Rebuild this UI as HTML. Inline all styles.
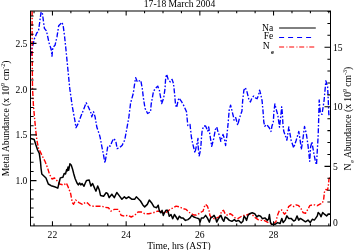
<!DOCTYPE html>
<html><head><meta charset="utf-8"><title>17-18 March 2004</title>
<style>
html,body{margin:0;padding:0;background:#fff;}
svg{display:block;}
text{font-family:"Liberation Serif",serif;font-size:9.6px;fill:#000;}
</style></head><body>
<svg width="355" height="250" viewBox="0 0 355 250">
<rect width="355" height="250" fill="#fff"/>
<text x="179.5" y="7.3" text-anchor="middle">17-18 March 2004</text>
<polyline points="31,56 32,48 33.2,44 34.2,39.3 36.8,33 38.5,31 39.8,21.5 41,12.5 42.2,12 43.5,21.5 44.4,28.3 46.4,30.8 47.7,36.7 49.4,44.3 50.6,47.5 51.3,50 52,56.2 52.5,50 53.2,47 55,45.3 56,41 57,36.7 58.7,25.7 60.4,24.1 62.1,22.4 63.3,26.6 64.6,36.7 65.8,48 69.7,88 72.3,106.6 74.8,120 76,127.7 78.2,123.5 80.7,116.7 84.1,108.3 86.2,102.8 88.4,107 90.9,112.7 91.8,116.9 93.5,111.8 95.1,116.9 96.8,127 99.4,134.6 100.2,137.6 101.9,146.9 103.6,155.4 104.9,163 106.6,153.7 107.8,146 110.4,146 112,141.8 113.7,138.5 115.8,141 117.1,148.6 119.6,147.7 122.2,145.2 124.7,140.1 126.4,131 128.9,116.9 130.6,103 133.2,93.8 134.9,82 135.7,77.7 137.4,82 139.1,81 140.8,80.3 142.3,88.7 143.4,98 144.5,105 145.1,108.5 147.6,113.5 150.5,111.8 151.2,104 152.2,98.8 153.5,91.2 156.1,87.8 157.7,86.1 159.4,90.4 161.1,100.5 161.7,103.5 163.7,98 165,88.7 165.7,77.7 166.7,74.3 168.4,80.2 170.4,81.9 172.1,79.4 173.5,83.6 174.6,93.7 175.5,104.5 176.6,107.6 178,101 178.9,98 181.4,101.3 183.9,105.9 186.5,111.8 187.3,120.3 187.8,125.5 190,124.4 191.4,137.2 192.6,143.2 193.8,148 195,152.8 196.2,146.8 197.4,142 198,138.4 198.1,145.6 198.6,151.6 199.2,155.8 200.4,150.4 201,144.4 201.6,136 202.2,130 203.9,126 205.6,126 207.8,131.1 208.7,127 210,135.4 211.7,146.3 213.7,138.7 215.4,129.4 216.8,127 218,132 219.6,136.2 220.8,141.3 223,134.5 224.2,137.9 225.6,145.5 226.9,135.4 228.1,123.5 229.2,110 230.6,105.1 232.1,111.3 233.5,117 234,120.1 235.7,117.6 237.7,125.2 239.4,118.5 240.8,114.2 241.9,111.3 242.7,100.4 243.9,90.2 245.3,87.7 247,91.9 248.7,98.7 250.4,102 252,97.8 253.7,96.1 255.4,97.8 257.1,98.7 258.5,95.3 259.6,90.2 260.8,94.4 262.1,101 263.1,111.9 263.8,122 264.8,126.3 266.8,124.6 269.4,128 271,131.5 271.9,126.3 273.3,122 273.9,111.9 274.9,104 276.1,109 277.8,115 279.5,127.1 280.7,117 281.7,106.8 282.5,115.3 282.9,123.7 283.7,131 286.9,140.2 288.8,127 291.1,140.2 293.7,147.8 296.2,140.2 298.8,131.5 300.4,141.9 301.3,149.5 303,138.5 304.5,126.5 306.3,133.5 308,145.3 309.7,161.3 310.6,147 311.9,141.9 313.6,152 315.6,162.2 316.5,164.7 317.3,150.3 318.2,135.1 318.7,118 319.2,100 320.4,113.2 322,114.4 324,101.2 325.9,80.8 327.6,86.8 328.3,101.2 328.8,114.4 330,116.8" fill="none" stroke="#0000ff" stroke-width="1.35" stroke-dasharray="5 1.8 1.6 1.8" stroke-linejoin="round"/>
<polyline points="32.1,11 32.15,50 32.5,88 33.4,105 34.6,118.4 35.6,129 36.8,139.8 38.5,148.3 41.8,155 45.2,161.8 47.7,168.3 49.4,174 52,179 54.5,178 57,180.7 59.6,184 63.8,185 66.3,183 68,186.6 70.6,193.4 72.3,202.6 73.6,204.3 75.6,200 79,202.6 82.4,204.3 85.8,202.2 87.5,203 90,205.5 93.5,206.3 97.7,206.3 101.9,206.3 105.3,207.4 108.4,207.7 110.9,211.1 114.3,209.4 118.5,209.4 121.1,215.3 124.4,216.2 127.8,215.3 131.2,217 134.6,215.3 138,212 141.3,212 144.7,213.7 148.9,213.7 153.2,212.8 157.4,211.1 160.8,211.5 163.4,212.8 166.8,212 170.1,209.4 173.5,207.7 176.1,206.1 179.4,206.9 182.8,208.6 186.2,209.4 188.7,212 191.3,213.7 193.8,215 196.3,215 198.9,213.7 201.4,212 203.1,211.1 204.3,206.9 205.6,204.4 207.3,206.1 209,210.3 209.9,215.4 211.5,217.9 214.1,218.7 216.6,217.9 219.2,217 220.1,215.4 221.8,211.1 223.5,210.3 225.1,213.7 227.7,215.4 230.2,213.7 232.7,215.4 235.3,217.9 237.8,218.7 240.4,217 242.9,215.4 245.4,215.4 248,214.5 250.5,213.7 253,215.4 255.6,217.9 258.1,219.6 260.6,220.4 264,220.4 267.4,222.1 270.8,223.6 273.4,223.8 275.9,221.8 277.6,215 279.3,210.8 281.8,210 284.4,214.2 286.9,211.7 288.6,206.6 291.1,204.9 293.7,206.6 296.2,204.9 298.7,205.7 301.3,209.1 303,212.5 305.5,213.3 308,209.1 309.7,205.7 312.3,204.9 314.8,204.9 317.3,205.7 319.9,204.1 322.4,203.2 323.7,199 324.4,192.2 325.8,189.5 327.6,190 328.4,185 329,179 330,177.5" fill="none" stroke="#ff0000" stroke-width="1.4" stroke-dasharray="5 1.8 1.4 1.8" stroke-linejoin="round"/>
<polyline points="31,138.5 34.2,139.5 35.9,145 37.6,150 39.3,153.3 40.5,161.8 41,168 41.8,174 46,178 48.3,184 51.1,185.7 54.6,186.8 57.8,188.1 59,183 60.3,177.9 62.9,177.2 64.2,173.4 65.5,174 66.7,169.5 67.4,170.8 68,167 68.7,170.2 69.9,163.8 71.2,165 72.5,168.9 73.8,174 75.1,178.5 77,183 78.3,184.9 79.6,183 80.8,184.9 82.1,183.6 84,186.2 85.3,183 86.6,180.4 89.2,180.1 90.9,186 92.6,183.5 94.8,188.6 96,191.1 97.7,186 99.4,190.3 100.5,195.4 103.6,196.2 106.1,192.8 107.5,193.4 109.2,197.6 111.8,194.2 114.3,197.6 116.8,192.5 119.4,195.9 121.9,199.3 124.4,196.8 126.1,198.5 128.7,196.8 132,199.3 134.6,199.3 136.3,196.8 138.8,199.3 140.5,201 143,205.2 144.7,206.9 147.3,204.4 149.3,200.1 151.5,202.7 154,206.9 156.6,207.7 158.2,205.2 159.4,211.1 160.8,212.8 162.1,210.3 163.3,215.4 164.5,212.8 165.9,210.3 167.6,210.3 169.3,216.2 171,214.5 172.7,218.7 174.4,214.5 176.1,217 177.7,219.6 179.4,216.2 181.1,217.9 182.8,217.9 185.4,220.4 187.9,219.6 190.1,217.9 191.8,215.4 193.8,217 196.3,217.9 198.9,218.7 200.1,222.1 201.4,217.9 203.6,217.9 205.6,215.4 207.3,217.9 209.4,222.1 210.7,217.9 212.4,217 214.1,215.4 215.8,218.7 216.7,222.1 218.4,218.7 220.9,215.4 222.6,219.6 223.8,221.3 225.1,217 226.8,217.9 229.4,220.4 231.9,221.3 234.4,219.6 236.1,221.3 238.7,220.4 241.2,223 242.9,221.3 244.1,216.2 245.4,217.9 246.6,220.4 248,215.4 249.6,213.7 252.2,212.8 254.7,213.7 256.9,217 258.6,215.4 260.6,216.2 262.3,218.7 264.9,217.9 267.4,220.4 268.7,218.7 269.4,214.5 270.4,222.1 271.6,224.3 275,224.3 277.6,222.6 280.1,223.5 281.8,218.4 283.2,222.6 285.2,220.1 286.9,215.9 288.6,218.4 291.1,218.4 293.7,221 295.4,220.1 297,215.9 298.7,220.1 300.4,218.4 303,220.1 305.5,221.8 308,220.1 310.2,222.6 312.3,219.3 314.3,220.1 315.6,218.4 317.3,215.9 318.2,212.5 319.9,214.2 321,216.7 322.7,212.5 324.4,214.2 326.6,215.9 328.3,214.2 330,214.2" fill="none" stroke="#000" stroke-width="1.5" stroke-linejoin="round"/>
<rect x="30.5" y="11" width="300.0" height="214.9" fill="none" stroke="#000" stroke-width="1"/>
<path d="M34.03,225.9v-2.3M34.03,11v2.3M52.45,225.9v-4.6M52.45,11v4.6M70.88,225.9v-2.3M70.88,11v2.3M89.30,225.9v-2.3M89.30,11v2.3M107.73,225.9v-2.3M107.73,11v2.3M126.15,225.9v-4.6M126.15,11v4.6M144.57,225.9v-2.3M144.57,11v2.3M163.00,225.9v-2.3M163.00,11v2.3M181.43,225.9v-2.3M181.43,11v2.3M199.85,225.9v-4.6M199.85,11v4.6M218.28,225.9v-2.3M218.28,11v2.3M236.70,225.9v-2.3M236.70,11v2.3M255.12,225.9v-2.3M255.12,11v2.3M273.55,225.9v-4.6M273.55,11v4.6M291.98,225.9v-2.3M291.98,11v2.3M310.40,225.9v-2.3M310.40,11v2.3M328.82,225.9v-2.3M328.82,11v2.3M30.5,217.20h3.1M30.5,208.05h3.1M30.5,198.90h3.1M30.5,189.75h3.1M30.5,180.60h6M30.5,171.45h3.1M30.5,162.30h3.1M30.5,153.15h3.1M30.5,144.00h3.1M30.5,134.85h6M30.5,125.70h3.1M30.5,116.55h3.1M30.5,107.40h3.1M30.5,98.25h3.1M30.5,89.10h6M30.5,79.95h3.1M30.5,70.80h3.1M30.5,61.65h3.1M30.5,52.50h3.1M30.5,43.35h6M30.5,34.20h3.1M30.5,25.05h3.1M30.5,15.90h3.1M330.5,213.99h-3.1M330.5,202.08h-3.1M330.5,190.17h-3.1M330.5,178.26h-3.1M330.5,166.35h-6M330.5,154.44h-3.1M330.5,142.53h-3.1M330.5,130.62h-3.1M330.5,118.71h-3.1M330.5,106.80h-6M330.5,94.89h-3.1M330.5,82.98h-3.1M330.5,71.07h-3.1M330.5,59.16h-3.1M330.5,47.25h-6M330.5,35.34h-3.1M330.5,23.43h-3.1M330.5,11.52h-3.1" stroke="#000" stroke-width="1.05" fill="none"/>
<g text-anchor="middle">
<text x="52.4" y="238">22</text><text x="126.1" y="238">24</text><text x="199.8" y="238">26</text><text x="273.5" y="238">28</text>
<text x="179" y="248.9">Time, hrs (AST)</text>
</g>
<g text-anchor="end">
<text x="27.4" y="46.7">2.5</text><text x="27.4" y="92.5">2.0</text><text x="27.4" y="138.3">1.5</text><text x="27.4" y="184">1.0</text>
</g>
<g>
<text x="333" y="50.5">15</text><text x="333" y="110.2">10</text><text x="333" y="170">5</text><text x="333" y="225.9">0</text>
</g>
<text transform="translate(9.3,176.3) rotate(-90)">Metal Abundance (x 10<tspan dy="-4.3" font-size="6">9</tspan><tspan dy="4.3"> cm</tspan><tspan dy="-4.3" font-size="6">-2</tspan><tspan dy="4.3">)</tspan></text>
<text transform="translate(350.8,170.6) rotate(-90)">N<tspan dy="3.2" dx="1" font-size="6">e</tspan><tspan dy="-3.2"> Abundance (x 10</tspan><tspan dy="-4.3" font-size="6">9</tspan><tspan dy="4.3"> cm</tspan><tspan dy="-4.3" font-size="6">-3</tspan><tspan dy="4.3">)</tspan></text>
<g text-anchor="end">
<text x="273.3" y="30.6">Na</text><text x="273.3" y="39.2">Fe</text><text x="269.8" y="49">N</text><text x="274" y="53.8" style="font-size:6.5px;font-weight:bold">e</text>
</g>
<path d="M279.1,28H315.8" stroke="#000" stroke-width="1"/>
<path d="M279.1,37.5H315.1" stroke="#0000ff" stroke-width="1" stroke-dasharray="5 4"/>
<path d="M279.1,47H315" stroke="#ff0000" stroke-width="1" stroke-dasharray="5 2.3 1 1.75"/>
</svg>
</body></html>
